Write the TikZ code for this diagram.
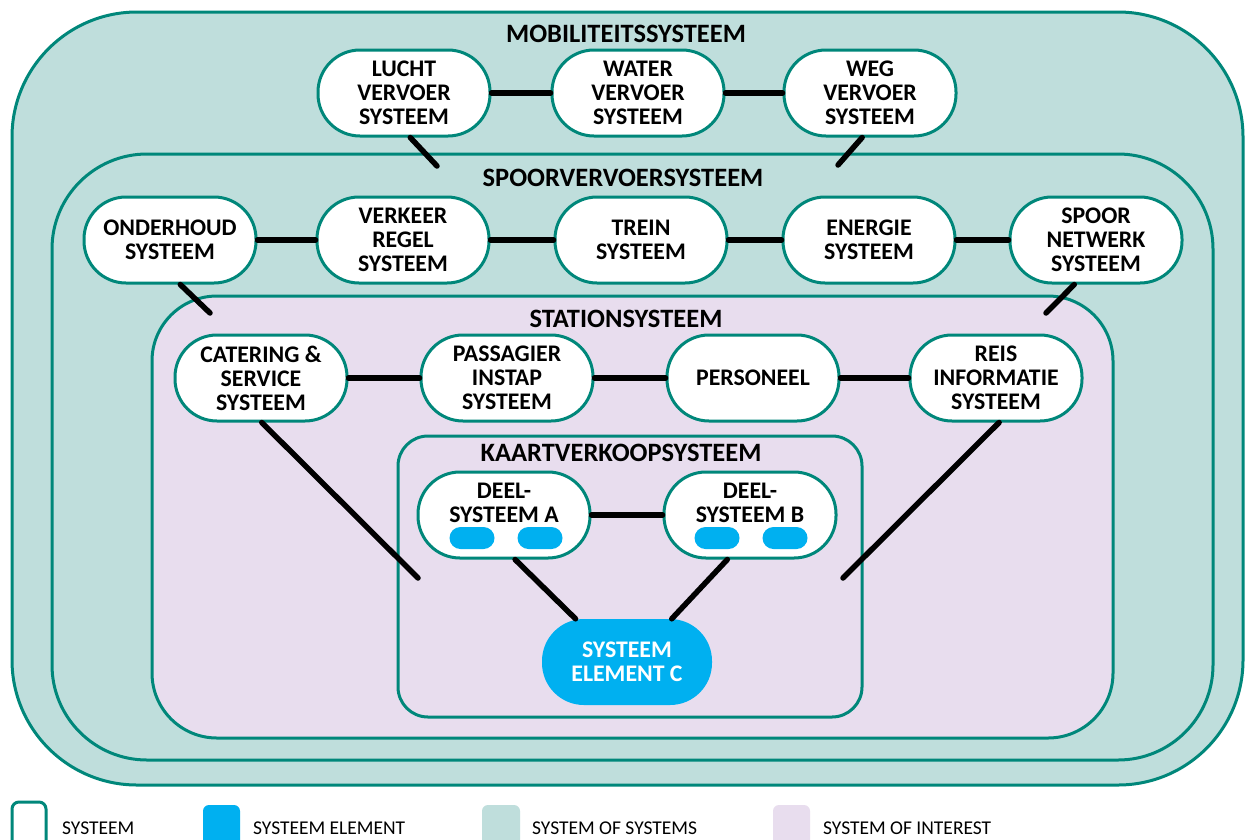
\documentclass[tikz,border=0pt]{standalone}
\usepackage{fontspec}
\setmainfont{Carlito}
\usetikzlibrary{calc}
\definecolor{tealline}{HTML}{00877A}
\definecolor{sosfill}{HTML}{BFDEDC}
\definecolor{soifill}{HTML}{E8DDEE}
\definecolor{elemblue}{HTML}{00B0F0}
\tikzset{
  frame/.style={draw=tealline, line width=3pt},
  sysnode/.style={draw=tealline, line width=3pt, fill=white, rounded corners=42pt,
    minimum width=172pt, minimum height=86pt, inner sep=0pt, align=center,
    font=\fontsize{23.8}{24}\selectfont\bfseries},
  elemnode/.style={fill=elemblue, rounded corners=42pt, minimum width=170pt,
    minimum height=86pt, inner sep=0pt, align=center, text=white,
    font=\fontsize{23.8}{24}\selectfont\bfseries},
  pill/.style={fill=elemblue, rounded corners=11pt, minimum width=45pt,
    minimum height=22pt, inner sep=0pt},
  txt/.style={inner sep=0pt, align=center, font=\fontsize{23.8}{24}\selectfont\bfseries},
  title/.style={inner sep=0pt, font=\fontsize{26.5}{27}\selectfont\bfseries},
  conn/.style={draw=black, line width=5.5pt, line cap=round},
  legtext/.style={inner sep=0pt, anchor=base west, font=\fontsize{19.5}{20}\selectfont},
}
\begin{document}
\begin{tikzpicture}[x=1pt, y=-1pt]
\useasboundingbox (0,0) rectangle (1247,839);
\clip (0,0) rectangle (1247,839);
\fill[white] (0,0) rectangle (1247,839);

% nested system boundaries
\draw[frame, fill=sosfill, rounded corners=125pt] (12,12) rectangle (1243,785);
\draw[frame, fill=sosfill, rounded corners=95pt] (52,154) rectangle (1213,760);
\draw[frame, fill=soifill, rounded corners=65pt] (152,296) rectangle (1113,738);
\draw[frame, fill=soifill, rounded corners=30pt] (398,436) rectangle (862,717);

% boundary titles
\node[title] (tmob) at (626,34) {MOBILITEITSSYSTEEM};
\node[title] (tspoor) at (623,178) {SPOORVERVOERSYSTEEM};
\node[title] (tstat) at (626,319) {STATIONSYSTEEM};
\node[title] (tkaart) at (621,453) {KAARTVERKOOPSYSTEEM};

% mobility level
\node[sysnode] (lucht) at (404,93) {LUCHT\\VERVOER\\SYSTEEM};
\node[sysnode] (water) at (638,93) {WATER\\VERVOER\\SYSTEEM};
\node[sysnode] (weg) at (870,93) {WEG\\VERVOER\\SYSTEEM};

% rail level
\node[sysnode] (onderhoud) at (170,240) {ONDERHOUD\\SYSTEEM};
\node[sysnode] (verkeer) at (403,240) {VERKEER\\REGEL\\SYSTEEM};
\node[sysnode] (trein) at (641,240) {TREIN\\SYSTEEM};
\node[sysnode] (energie) at (869,240) {ENERGIE\\SYSTEEM};
\node[sysnode] (spoor) at (1096,240) {SPOOR\\NETWERK\\SYSTEEM};

% station level
\node[sysnode] (catering) at (261,378) {CATERING \&\\SERVICE\\SYSTEEM};
\node[sysnode] (passagier) at (507,378) {PASSAGIER\\INSTAP\\SYSTEEM};
\node[sysnode] (personeel) at (753,378) {PERSONEEL};
\node[sysnode] (reis) at (996,378) {REIS\\INFORMATIE\\SYSTEEM};

% ticket sales level
\node[sysnode] (deela) at (504,515) {};
\node[txt] (deelat) at (504,503) {DEEL-\\SYSTEEM A};
\node[pill] (pa1) at (472,538) {};
\node[pill] (pa2) at (540,538) {};
\node[sysnode] (deelb) at (750,515) {};
\node[txt] (deelbt) at (750,503) {DEEL-\\SYSTEEM B};
\node[pill] (pb1) at (717,538) {};
\node[pill] (pb2) at (785,538) {};
\node[elemnode] (elemc) at (627,662) {SYSTEEM\\ELEMENT C};

% free ends of links that leave a boundary
\coordinate (lend) at (437,166);
\coordinate (wend) at (838,165);
\coordinate (oend) at (210,313);
\coordinate (send) at (1046,313);
\coordinate (cend) at (418,578);
\coordinate (rend) at (843,578);

% links
\draw[conn] (lucht) -- (water);
\draw[conn] (water) -- (weg);
\draw[conn] (lucht.-82) -- (lend);
\draw[conn] (weg.-100) -- (wend);
\draw[conn] (onderhoud) -- (verkeer);
\draw[conn] (verkeer) -- (trein);
\draw[conn] (trein) -- (energie);
\draw[conn] (energie) -- (spoor);
\draw[conn] (onderhoud.-77) -- (oend);
\draw[conn] (spoor.-116) -- (send);
\draw[conn] (catering) -- (passagier);
\draw[conn] (passagier) -- (personeel);
\draw[conn] (personeel) -- (reis);
\draw[conn] (catering.-89) -- (cend);
\draw[conn] (reis.-86) -- (rend);
\draw[conn] (deela) -- (deelb);
\draw[conn] (deela.-76) -- (elemc.140);
\draw[conn] (deelb.-117) -- (elemc.44);

% legend
\draw[frame, rounded corners=7pt] (12,802) rectangle (46,850);
\fill[elemblue, rounded corners=6pt] (203,805) rectangle (240,850);
\fill[sosfill, rounded corners=6pt] (482,805) rectangle (520,850);
\fill[soifill, rounded corners=6pt] (773,805) rectangle (810,850);
\node[legtext] (l1) at (62,834) {SYSTEEM};
\node[legtext] (l2) at (253,834) {SYSTEEM ELEMENT};
\node[legtext] (l3) at (532,834) {SYSTEM OF SYSTEMS};
\node[legtext] (l4) at (823,834) {SYSTEM OF INTEREST};
\end{tikzpicture}
\end{document}
